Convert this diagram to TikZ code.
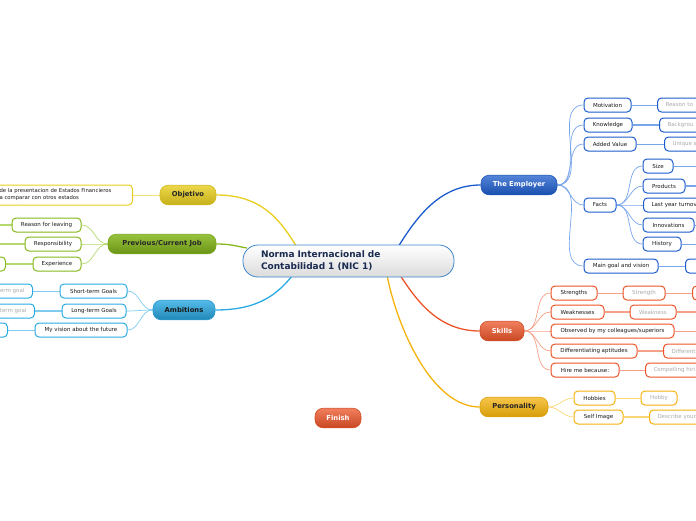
\documentclass[tikz,border=0pt]{standalone}
\usepackage{fontspec}
\setmainfont{DejaVu Sans}
\pgfdeclarelayer{bg}
\pgfsetlayers{bg,main}
\definecolor{ylw}{HTML}{E8CE1E}
\definecolor{grn}{HTML}{86B81C}
\definecolor{grnl}{HTML}{B6D870}
\definecolor{sky}{HTML}{2AAAE4}
\definecolor{skyl}{HTML}{80CCF0}
\definecolor{emp}{HTML}{1C5CCC}
\definecolor{empl}{HTML}{78A6EA}
\definecolor{skl}{HTML}{EC5428}
\definecolor{skll}{HTML}{F5A088}
\definecolor{per}{HTML}{F4B20C}
\definecolor{perl}{HTML}{FAD676}
\definecolor{ylwl}{HTML}{F2E27A}
\definecolor{centb}{HTML}{3C86CA}
\definecolor{navy}{HTML}{1A2A50}
\tikzset{
  mainnode/.style={rounded corners=8, minimum height=19.5, inner xsep=4, inner ysep=0,
    font=\fontsize{6.8}{7}\selectfont\bfseries, line width=0.6},
  kid/.style={draw, fill=white, rounded corners=4, line width=1, minimum height=14,
    inner xsep=8, inner ysep=0, font=\fontsize{5.5}{6}\selectfont, text=black!90},
  gkid/.style={kid, text=black!33},
  fan/.style={line width=0.7},
}
\begin{document}
\begin{tikzpicture}[x=1pt,y=-1pt]
\useasboundingbox (0,0) rectangle (696,520);
\clip (0,0) rectangle (696,520);

% central
\node[draw=centb, line width=0.8, rounded corners=15, top color=white, bottom color=black!14,
  minimum height=32, text width=175, inner xsep=18, align=left, text=navy,
  font=\fontsize{9}{12}\selectfont\bfseries] (cent) at (348.5,261)
  {Norma Internacional de\\Contabilidad 1 (NIC 1)};
\coordinate (cObj) at (298,249);
\coordinate (cPrev) at (247,248);
\coordinate (cAmb) at (293,275);
\coordinate (cEmp) at (398,247);
\coordinate (cSkl) at (400,275);
\coordinate (cPer) at (387,275);

% main nodes
\node[mainnode, draw=ylw!90!black, top color=ylw!80!white, bottom color=ylw!85!black, text=black!85, minimum width=56] (obj) at (188,195) {Objetivo};
\node[mainnode, draw=grn!90!black, top color=grn!85!white, bottom color=grn!80!black, text=black!85, minimum width=108] (prev) at (162,244) {Previous/Current Job};
\node[mainnode, draw=sky!90!black, top color=sky!80!white, bottom color=sky!80!black, text=black!90, minimum width=62] (amb) at (184,310) {Ambitions};
\node[mainnode, draw=emp!90!black, top color=emp!75!white, bottom color=emp!85!black, text=white, minimum width=76] (emp) at (519,185) {The Employer};
\node[mainnode, draw=skl!90!black, top color=skl!75!white, bottom color=skl!85!black, text=white, minimum width=44] (skl) at (502,331) {Skills};
\node[mainnode, draw=per!90!black, top color=per!75!white, bottom color=per!88!black, text=black!85, minimum width=68] (per) at (514,407) {Personality};
\node[mainnode, draw=skl!90!black, top color=skl!75!white, bottom color=skl!85!black, text=white, minimum width=46] (fin) at (338,418) {Finish};

% Objetivo child
\node[kid, draw=ylw, anchor=east, minimum height=20, text width=125, inner xsep=8, align=left,
  font=\fontsize{5.3}{7}\selectfont] (o1) at (133,195)
  {de la presentacion de Estados Financieros\\a comparar con otros estados};

% Previous/Current Job children
\node[kid, draw=grn, minimum width=69] (p1) at (46.5,225) {Reason for leaving};
\node[kid, draw=grn, minimum width=56] (p2) at (53,244) {Responsibility};
\node[kid, draw=grn, minimum width=48] (p3) at (57,264) {Experience};
\node[kid, draw=grn, anchor=east, minimum width=30] (p3a) at (6,264) {};
\coordinate (p1a) at (0,225);
\coordinate (p2a) at (0,244);

% Ambitions children
\node[kid, draw=sky, minimum width=67] (a1) at (93.5,291) {Short-term Goals};
\node[kid, draw=sky, minimum width=64] (a2) at (94,311) {Long-term Goals};
\node[kid, draw=sky, minimum width=92] (a3) at (81,330) {My vision about the future};
\node[gkid, draw=sky, anchor=east, text width=50, align=right] (a1a) at (33,291) {term goal};
\node[gkid, draw=sky, anchor=east, text width=50, align=right] (a2a) at (35,311) {term goal};
\node[kid, draw=sky, anchor=east, minimum width=40] (a3a) at (8,330) {};

% Employer children
\node[kid, draw=emp, minimum width=47] (e1) at (607.5,105) {Motivation};
\node[kid, draw=emp, minimum width=48] (e2) at (608,125) {Knowledge};
\node[kid, draw=emp, minimum width=52] (e3) at (610,144) {Added Value};
\node[kid, draw=emp, minimum width=32] (e4) at (600,205) {Facts};
\node[kid, draw=emp, minimum width=74] (e5) at (621,266) {Main goal and vision};
\node[gkid, draw=emp, anchor=west, text width=60, align=left] (e1a) at (657,105) {Reason to};
\node[gkid, draw=emp, anchor=west, text width=60, align=left] (e2a) at (659,125) {Backgrou};
\node[gkid, draw=emp, anchor=west, text width=60, align=left] (e3a) at (664,144) {Unique s};
\node[gkid, draw=emp, anchor=west, minimum width=40] (e5a) at (685,266) {};
% Facts children
\node[kid, draw=emp, minimum width=30] (f1) at (658,166) {Size};
\node[kid, draw=emp, minimum width=42] (f2) at (664,186) {Products};
\node[kid, draw=emp, anchor=west, text width=80, align=left] (f3) at (643,205) {Last year turnov};
\node[kid, draw=emp, minimum width=51] (f4) at (668.5,225) {Innovations};
\node[kid, draw=emp, minimum width=38] (f5) at (662,244) {History};
\coordinate (f1a) at (697,166);
\coordinate (f2a) at (697,186);
\coordinate (f4a) at (697,225);
\coordinate (f5a) at (697,244);

% Skills children
\node[kid, draw=skl, minimum width=46] (s1) at (574,293) {Strengths};
\node[kid, draw=skl, minimum width=53] (s2) at (577.5,312) {Weaknesses};
\node[kid, draw=skl, minimum width=123] (s3) at (612.5,331) {Observed by my colleagues/superiors};
\node[kid, draw=skl, minimum width=86] (s4) at (594,351) {Differentiating aptitudes};
\node[kid, draw=skl, minimum width=68] (s5) at (585,370) {Hire me because:};
\node[gkid, draw=skl, minimum width=42] (s1a) at (644,293) {Strength};
\node[kid, draw=skl, anchor=west, minimum width=40] (s1b) at (692,293) {};
\node[gkid, draw=skl, minimum width=46] (s2a) at (653,312) {Weakness};
\coordinate (s2b) at (697,312);
\coordinate (s3a) at (697,331);
\node[gkid, draw=skl, anchor=west, text width=60, align=left] (s4a) at (663,351) {Different};
\node[gkid, draw=skl, anchor=west, text width=70, align=left] (s5a) at (645,370) {Compelling hiri};

% Personality children
\node[kid, draw=per, minimum width=41] (r1) at (594.5,398) {Hobbies};
\node[kid, draw=per, minimum width=49] (r2) at (598.5,417) {Self Image};
\node[gkid, draw=per, minimum width=36] (r1a) at (659,398) {Hobby};
\node[gkid, draw=per, anchor=west, text width=60, align=left] (r2a) at (649,417) {Describe your};

\begin{pgfonlayer}{bg}
\clip (0,0) rectangle (696,520);
% main connectors
\draw[ylw, line width=1.3] (obj.east) .. controls +(45,0) and +(-18,-30) .. (cObj);
\draw[grn, line width=1.3] (prev.east) .. controls +(15,0) and +(-12,-2) .. (cPrev);
\draw[sky, line width=1.3] (amb.east) .. controls +(45,0) and +(-15,18) .. (cAmb);
\draw[emp, line width=1.3] (emp.west) .. controls +(-40,0) and +(20,-32) .. (cEmp);
\draw[skl, line width=1.3] (skl.west) .. controls +(-40,0) and +(18,28) .. (cSkl);
\draw[per, line width=1.3] (per.west) .. controls +(-48,0) and +(10,52) .. (cPer);
% fans
\draw[ylwl, line width=0.9] (obj.west) -- (o1.east);
\foreach \c in {p1,p2,p3} \draw[grnl, fan] (prev.west) to[out=180,in=0] (\c.east);
\draw[grnl, line width=1.2] (p1.west) -- (p1a);
\draw[grnl, line width=1.2] (p2.west) -- (p2a);
\draw[grnl, line width=1.2] (p3.west) -- (p3a.east);
\foreach \c in {a1,a2,a3} \draw[skyl, fan] (amb.west) to[out=180,in=0] (\c.east);
\draw[skyl, line width=0.9] (a1.west) -- (a1a.east);
\draw[skyl, line width=1.6] (a2.west) -- (a2a.east);
\draw[skyl, line width=0.9] (a3.west) -- (a3a.east);
\foreach \c in {e1,e2,e3,e4,e5} \draw[empl, fan] (emp.east) to[out=0,in=180] (\c.west);
\draw[empl, line width=0.9] (e1.east) -- (e1a.west);
\draw[empl, line width=1.8] (e2.east) -- (e2a.west);
\draw[empl, line width=0.9] (e3.east) -- (e3a.west);
\draw[empl, line width=0.9] (e5.east) -- (e5a.west);
\foreach \c in {f1,f2,f3,f4,f5} \draw[empl, fan] (e4.east) to[out=0,in=180] (\c.west);
\draw[empl, line width=0.9] (f1.east) -- (f1a);
\draw[empl, line width=1.8] (f2.east) -- (f2a);
\draw[empl, line width=0.9] (f4.east) -- (f4a);
\draw[empl, line width=0.9] (f5.east) -- (f5a);
\foreach \c in {s1,s2,s3,s4,s5} \draw[skll, fan] (skl.east) to[out=0,in=180] (\c.west);
\draw[skll, line width=0.9] (s1.east) -- (s1a.west);
\draw[skll, line width=0.9] (s1a.east) -- (s1b.west);
\draw[skll, line width=1.8] (s2.east) -- (s2a.west);
\draw[skll, line width=1.8] (s2a.east) -- (s2b);
\draw[skll, line width=0.9] (s3.east) -- (s3a);
\draw[skll, line width=1.8] (s4.east) -- (s4a.west);
\draw[skll, line width=0.9] (s5.east) -- (s5a.west);
\foreach \c in {r1,r2} \draw[perl, fan] (per.east) to[out=0,in=180] (\c.west);
\draw[perl, line width=0.9] (r1.east) -- (r1a.west);
\draw[perl, line width=1.8] (r2.east) -- (r2a.west);
\end{pgfonlayer}
\end{tikzpicture}
\end{document}
